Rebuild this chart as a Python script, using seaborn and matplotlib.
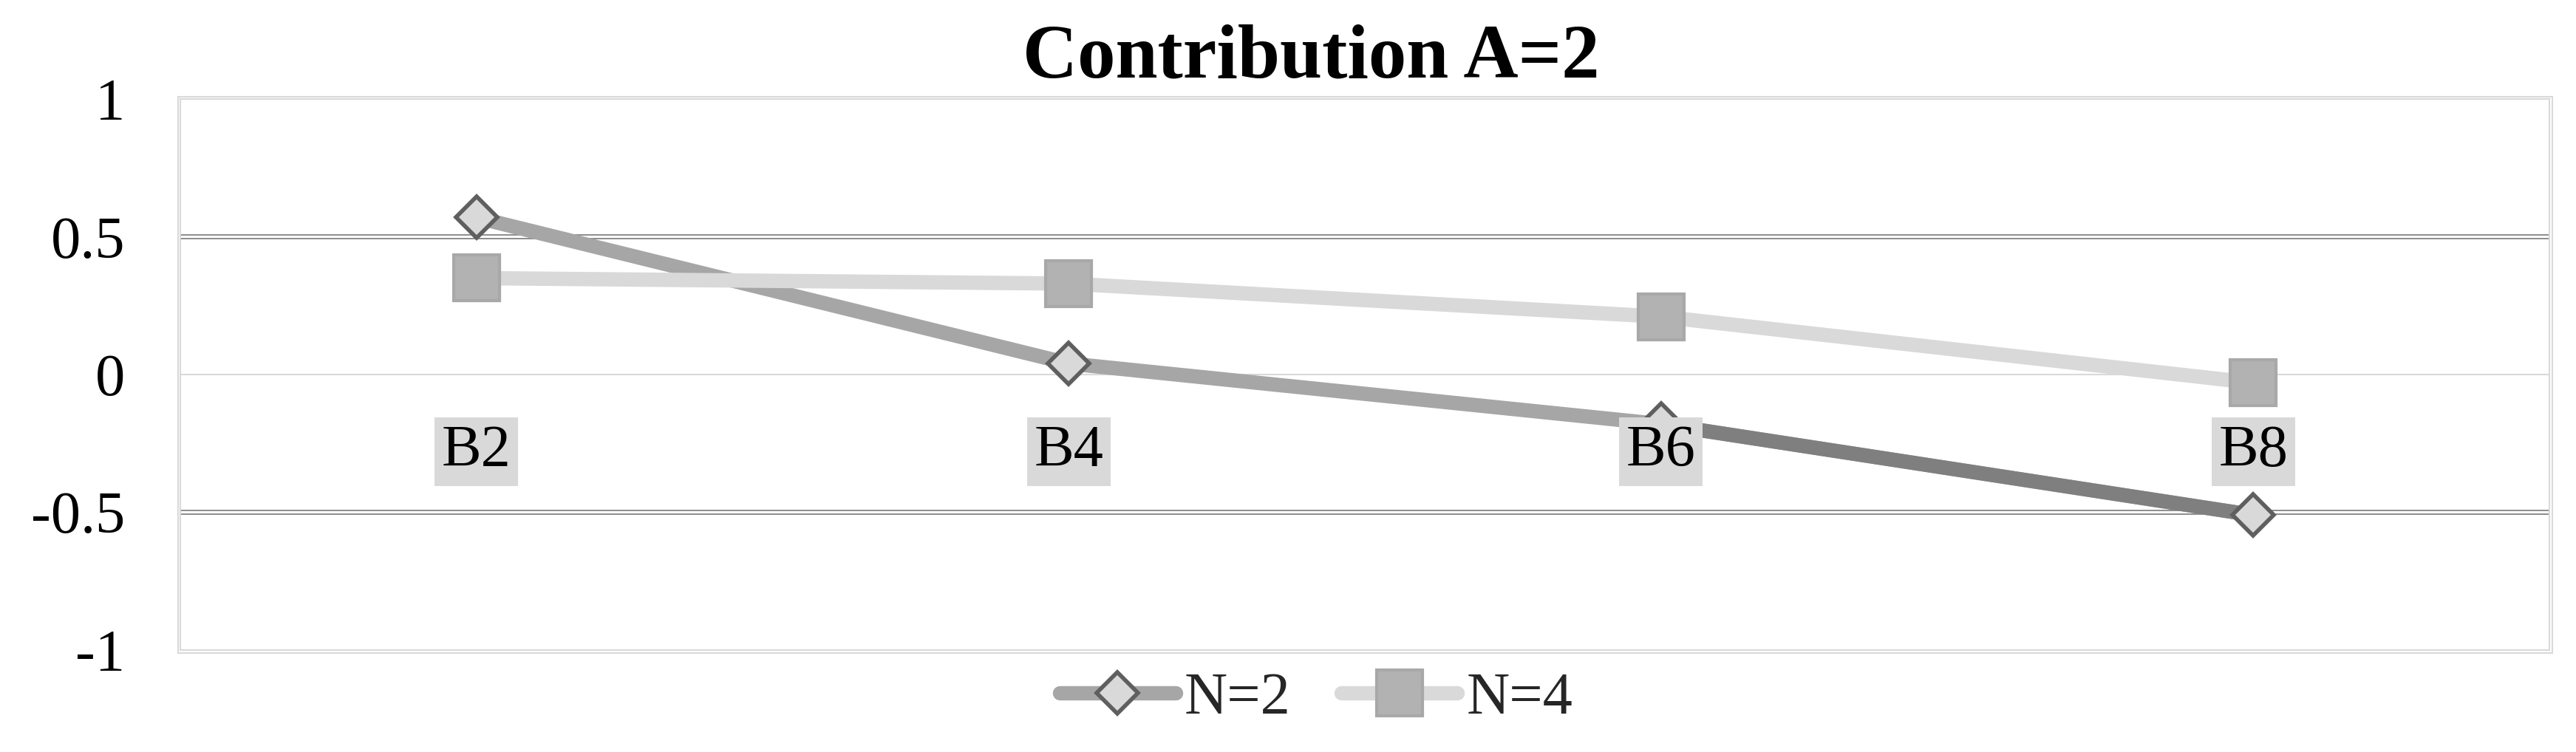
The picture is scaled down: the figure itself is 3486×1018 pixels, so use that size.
import matplotlib
matplotlib.use('Agg')
import pandas as pd
import matplotlib.pyplot as plt
from matplotlib.lines import Line2D
from matplotlib.patches import Rectangle
import seaborn as sns

# --- data ---
categories = ['B2', 'B4', 'B6', 'B8']
n2_values = [0.57, 0.04, -0.18, -0.51]
n4_values = [0.35, 0.33, 0.21, -0.03]
series_labels = ['N=2', 'N=4']
y_ticks = [-1, -0.5, 0, 0.5, 1]
y_tick_labels = ['-1', '-0.5', '0', '0.5', '1']
major_grid = [-0.5, 0.5]
title = 'Contribution A=2'

sns.set_theme(style='white')
plt.rcParams['font.family'] = ['Liberation Serif', 'DejaVu Serif']

df = pd.DataFrame({'cat': categories, 'N=2': n2_values, 'N=4': n4_values})

LW = 14  # series line width (pt)

W, H = 3486, 1018
fig = plt.figure(figsize=(W / 100, H / 100), dpi=100)
ax = fig.add_axes([244 / W, 1 - 880 / H, (3450 - 244) / W, (880 - 134) / H])

# --- gridlines ---
ax.axhline(0, color='#d9d9d9', lw=1.5, zorder=0.5)
for g in major_grid:
    for d in (-0.0075, 0.0075):
        ax.axhline(g + d, color='#8c8c8c', lw=1.4, zorder=0.5)

# --- N=2 series ---
sns.lineplot(data=df, x='cat', y='N=2', ax=ax, sort=False, estimator=None,
             color='#a6a6a6', lw=LW, solid_capstyle='round', zorder=2)
sns.lineplot(data=df.iloc[2:], x='cat', y='N=2', ax=ax, sort=False, estimator=None,
             color='#7f7f7f', lw=LW, solid_capstyle='round', zorder=2)
sns.lineplot(data=df, x='cat', y='N=2', ax=ax, sort=False, estimator=None,
             linestyle='none', marker='D', markersize=29,
             markerfacecolor='#d9d9d9', mec='#5f5f5f', mew=4, zorder=3)

# --- N=4 series ---
sns.lineplot(data=df, x='cat', y='N=4', ax=ax, sort=False, estimator=None,
             color='#d9d9d9', lw=LW, solid_capstyle='round', zorder=4)
sns.lineplot(data=df, x='cat', y='N=4', ax=ax, sort=False, estimator=None,
             linestyle='none', marker='s', markersize=44,
             markerfacecolor='#b2b2b2', mec='#a8a8a8', mew=3, zorder=5)

# --- axes styling ---
ax.set_xlim(-0.5, 3.5)
ax.set_ylim(-1, 1)
ax.set_xticks([])
ax.set_yticks(y_ticks)
ax.set_yticklabels(y_tick_labels)
ax.tick_params(axis='y', length=0, pad=54, labelsize=58, colors='black')
ax.set_xlabel('')
ax.set_ylabel('')
for sp in ax.spines.values():
    sp.set_color('#d9d9d9')
    sp.set_linewidth(1.5)
# outer line of the double frame
fig.patches.append(Rectangle((240.5 / W, 1 - 884 / H), (3453.5 - 240.5) / W, (884 - 131) / H,
                             transform=fig.transFigure, fill=False,
                             ec='#d9d9d9', lw=1.5))

# category labels sit below the zero line with a grey box
for i, c in enumerate(categories):
    ax.text(i, -0.332, c, ha='center', va='baseline', fontsize=58, color='black',
            bbox=dict(boxstyle='square,pad=0.12', fc='#d9d9d9', ec='none'), zorder=10)

# --- title ---
fig.text(1774 / W, 1 - 104 / H, title, ha='center', va='baseline',
         fontsize=74, fontweight='bold', color='black')

# --- legend ---
handles = [
    Line2D([], [], color='#a6a6a6', lw=LW, solid_capstyle='round', marker='D',
           markersize=29, markerfacecolor='#d9d9d9', markeredgecolor='#5f5f5f', markeredgewidth=4),
    Line2D([], [], color='#d9d9d9', lw=LW, solid_capstyle='round', marker='s',
           markersize=44, markerfacecolor='#b2b2b2', markeredgecolor='#a8a8a8', markeredgewidth=3),
]
ax.legend(handles, series_labels, loc='center', bbox_to_anchor=(1781 / W, 1 - 946 / H),
          bbox_transform=fig.transFigure, ncol=2, frameon=False, fontsize=58,
          handlelength=1.95, handletextpad=0.15, columnspacing=0.85, borderpad=0)

fig.savefig('out.png', dpi=100)
